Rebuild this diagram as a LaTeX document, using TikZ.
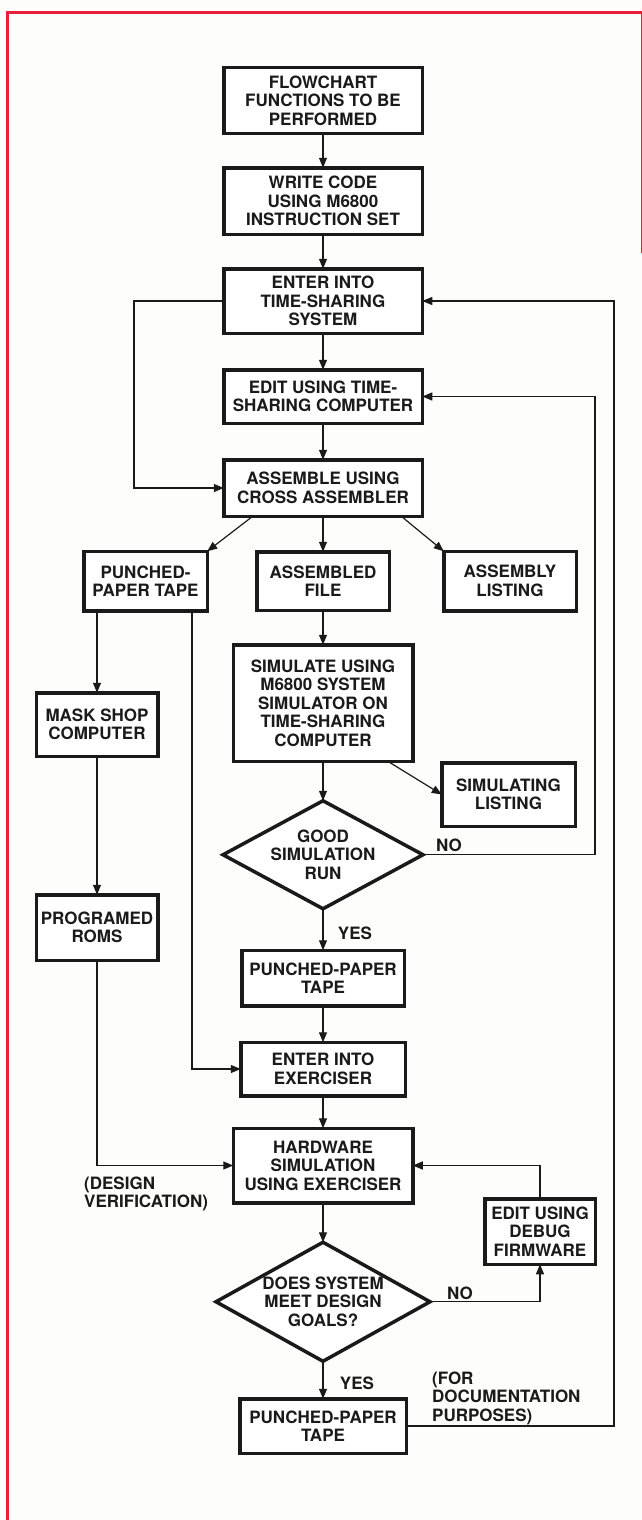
\documentclass[tikz,border=0pt]{standalone}
\usepackage{fontspec}
\setmainfont{TeX Gyre Heros}
\usetikzlibrary{arrows.meta,positioning,shapes.geometric,calc}
\definecolor{ink}{HTML}{1A1A1A}
\definecolor{edge}{HTML}{E8203A}
\definecolor{paper}{HTML}{FDFDFC}
\tikzset{
  box/.style={draw=ink, line width=3.5pt, fill=white, align=center, inner sep=0pt, outer sep=0pt},
  decision/.style={diamond, draw=ink, line width=3.5pt, fill=white, aspect=1.8, align=center, inner sep=0pt, outer sep=0pt},
  note/.style={align=left, inner sep=0pt},
  arr/.style={-{Triangle[length=10pt,width=8pt]}, line width=1.2pt, draw=ink},
  frame/.style={draw=edge, line width=3pt}
}
\begin{document}
\begin{tikzpicture}[x=1pt, y=-1pt, text=ink, font=\fontsize{17}{18.5}\selectfont\bfseries]
  \fill[paper] (0,0) rectangle (642,1520);
  \useasboundingbox (0,0) rectangle (642,1520);
  \draw[frame] (7,1520) -- (7,13) -- (642,13);
  \draw[draw=edge, line width=1pt] (641,13) -- (641,253);

  % main column
  \node[box, minimum width=198.5pt, minimum height=65.5pt] (flow) at (323,100.5) {FLOWCHART\\FUNCTIONS TO BE\\PERFORMED};
  \node[box, minimum width=198.5pt, minimum height=66.5pt, below=34.5pt of flow] (code) {WRITE CODE\\USING M6800\\INSTRUCTION SET};
  \node[box, minimum width=198.5pt, minimum height=64.5pt, below=34.5pt of code] (enter) {ENTER INTO\\TIME-SHARING\\SYSTEM};
  \node[box, minimum width=198.5pt, minimum height=53.5pt, below=36.5pt of enter] (edit) {EDIT USING TIME-\\SHARING COMPUTER};
  \node[box, minimum width=198.5pt, minimum height=56.5pt, below=36.5pt of edit] (asm) {ASSEMBLE USING\\CROSS ASSEMBLER};
  \node[box, minimum width=132.5pt, minimum height=58.5pt, below=35.5pt of asm] (afile) {ASSEMBLED\\FILE};
  \node[box, minimum width=123.5pt, minimum height=59.5pt, left=49.5pt of afile] (tape) {PUNCHED-\\PAPER TAPE};
  \node[box, minimum width=132.5pt, minimum height=59.5pt, right=54.5pt of afile] (alist) {ASSEMBLY\\LISTING};
  \node[box, minimum width=179.5pt, minimum height=116.5pt, below=34.5pt of afile] (sim) {SIMULATE USING\\M6800 SYSTEM\\SIMULATOR ON\\TIME-SHARING\\COMPUTER};
  \node[box, minimum width=133.5pt, minimum height=63.5pt] (slist) at (508.5,794.5) {SIMULATING\\LISTING};
  \node[decision, minimum width=200pt, minimum height=108pt, below=39.5pt of sim] (good) {GOOD\\SIMULATION\\RUN};
  \node[box, minimum width=162.5pt, minimum height=55.5pt, below=41.5pt of good] (tapeB) {PUNCHED-PAPER\\TAPE};
  \node[box, minimum width=164.5pt, minimum height=53.5pt, below=36.5pt of tapeB] (exer) {ENTER INTO\\EXERCISER};
  \node[box, minimum width=179.5pt, minimum height=74.5pt, below=32.5pt of exer] (hw) {HARDWARE\\SIMULATION\\USING EXERCISER};
  \node[decision, minimum width=214pt, minimum height=119pt, below=39.5pt of hw] (goals) {DOES SYSTEM\\MEET DESIGN\\GOALS?};
  \node[box, minimum width=166.5pt, minimum height=54.5pt, below=37.5pt of goals] (tapeC) {PUNCHED-PAPER\\TAPE};

  % side boxes
  \node[box, minimum width=121.5pt, minimum height=63.5pt] (mask) at (97,724.5) {MASK SHOP\\COMPUTER};
  \node[box, minimum width=121.5pt, minimum height=65.5pt] (roms) at (97,927.5) {PROGRAMED\\ROMS};
  \node[box, minimum width=110.5pt, minimum height=65.5pt] (debug) at (540,1231.5) {EDIT USING\\DEBUG\\FIRMWARE};

  % labels
  \node[note] (no1) at (449,845) {NO};
  \node[note] (yes1) at (355,933) {YES};
  \node[note] (no2) at (460,1293) {NO};
  \node[note] (yes2) at (357,1383) {YES};
  \node[note, anchor=west] (dv) at (84,1194) {(DESIGN\\VERIFICATION)};
  \node[note, anchor=west] (fdp) at (432,1398) {(FOR\\DOCUMENTATION\\PURPOSES)};

  \coordinate (lx) at (134,0);
  \coordinate (ix) at (595,0);
  \coordinate (rx) at (614,0);
  \coordinate (px) at (192,0);

  \draw[arr] (flow) -- (code);
  \draw[arr] (code) -- (enter);
  \draw[arr] (enter) -- (edit);
  \draw[arr] (edit) -- (asm);
  \draw[arr] (enter.west) -- (enter.west -| lx) |- (asm.west);
  \draw[arr] ([xshift=29pt]asm.south west) -- (tape.north east);
  \draw[arr] (asm) -- (afile);
  \draw[arr] ([xshift=-21pt]asm.south east) -- (alist.north west);
  \draw[arr] (afile) -- (sim);
  \draw[arr] ([xshift=-25pt]sim.south east) -- (slist.west);
  \draw[arr] (sim) -- (good);
  \draw[arr] (good.east) -- (good.east -| ix) |- (edit.east);
  \draw[arr] (good) -- (tapeB);
  \draw[arr] (tapeB) -- (exer);
  \draw[arr] (exer) -- (hw);
  \draw[arr] (hw) -- (goals);
  \draw[arr] (goals.east) -| (debug.south);
  \draw[arr] (debug.north) |- (hw.east);
  \draw[arr] (goals) -- (tapeC);
  \draw[arr] (tapeC.east) -- (tapeC.east -| rx) |- (enter.east);
  \draw[arr] (tape.south -| mask.north) -- (mask.north);
  \draw[arr] (mask) -- (roms);
  \draw[arr] (roms.south) |- (hw.west);
  \draw[arr] (tape.south -| px) |- (exer.west);
\end{tikzpicture}
\end{document}
